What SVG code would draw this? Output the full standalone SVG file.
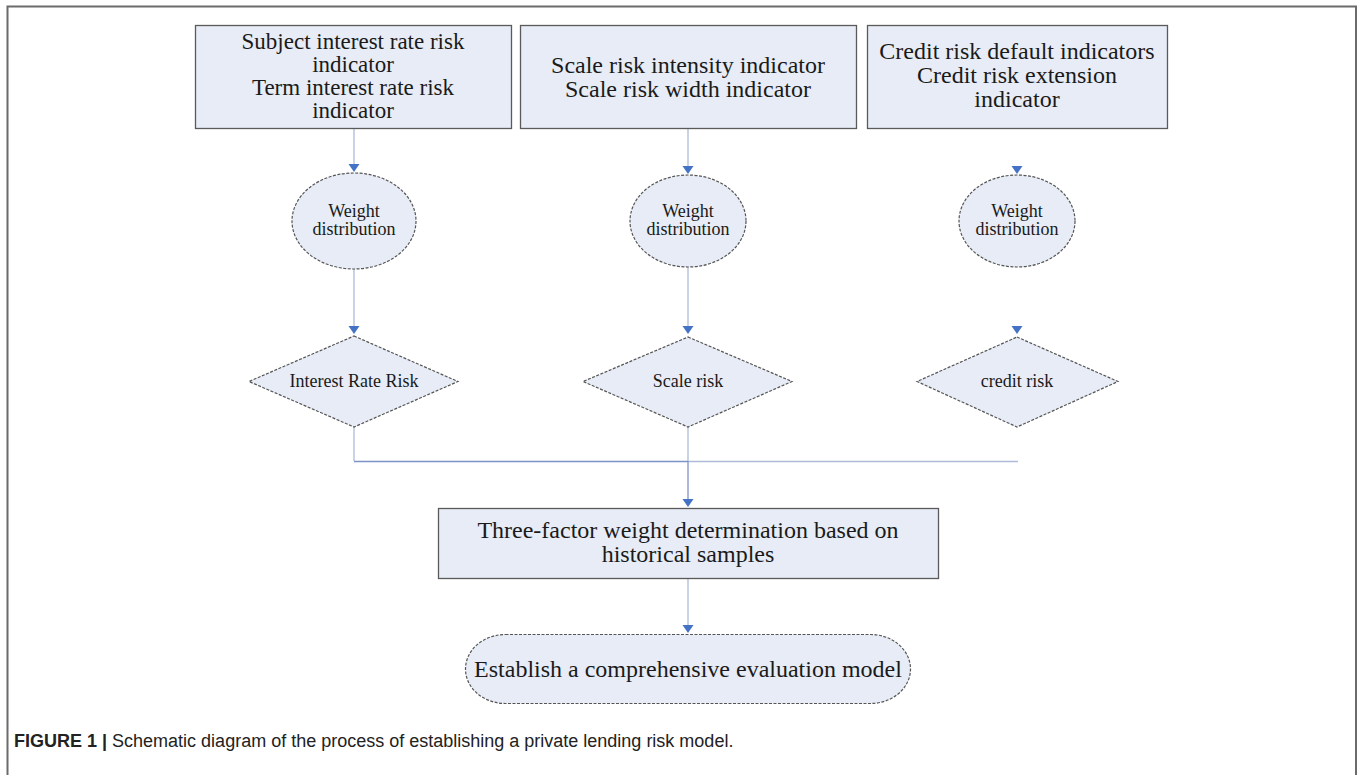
<svg xmlns="http://www.w3.org/2000/svg" width="1360" height="775" viewBox="0 0 1360 775">
<defs>
<style>
.box{fill:#e7ecf6;stroke:#5a5a5a;stroke-width:1.3}
.dash{fill:#e7ecf6;stroke:#555;stroke-width:1.2;stroke-dasharray:3 1.5}
.t{font-family:"Liberation Serif","Times New Roman",serif;fill:#1a1a1a;text-anchor:middle}
.big{font-size:24px}
.mid{font-size:23px}
.sm{font-size:18px}
.dm{font-size:18px}
.ln{stroke:#aebbd8;stroke-width:1.3;fill:none}
.ln2{stroke:#7d92c6;stroke-width:1.3;fill:none}
.ah{fill:#4472c4}
.cap{font-family:"Liberation Sans",Arial,sans-serif;font-size:18px;fill:#222}
</style>
</defs>
<rect width="1360" height="775" fill="#fff"/>
<path d="M7.5,780 V6.5 H1356 V780" fill="none" stroke="#6b6b6b" stroke-width="2"/>

<g id="connectors">
<line class="ln" x1="354" y1="129" x2="354" y2="165"/>
<polygon class="ah" points="348.5,164 359.5,164 354,172"/>
<line class="ln" x1="354" y1="269" x2="354" y2="327"/>
<polygon class="ah" points="348.5,326 359.5,326 354,334"/>
<line class="ln" x1="688" y1="129" x2="688" y2="167"/>
<polygon class="ah" points="682.5,166 693.5,166 688,174"/>
<line class="ln" x1="688" y1="267" x2="688" y2="327"/>
<polygon class="ah" points="682.5,326 693.5,326 688,334"/>
<polygon class="ah" points="1011.5,166 1022.5,166 1017,174"/>
<polygon class="ah" points="1011.5,326 1022.5,326 1017,334"/>
<line class="ln" x1="354" y1="427" x2="354" y2="461"/>
<line class="ln" x1="688" y1="427" x2="688" y2="461"/>
<line class="ln2" x1="354" y1="461.5" x2="688" y2="461.5"/>
<line class="ln" x1="688" y1="461.5" x2="1018" y2="461.5"/>
<line class="ln2" x1="688" y1="461" x2="688" y2="500"/>
<polygon class="ah" points="682.5,499 693.5,499 688,507"/>
<line class="ln" x1="688" y1="578" x2="688" y2="626"/>
<polygon class="ah" points="682.5,625 693.5,625 688,633"/>
</g>

<g id="box1">
<rect class="box" x="195.5" y="25.5" width="316" height="103"/>
<text class="t mid" x="353" y="49">Subject interest rate risk</text>
<text class="t mid" x="353" y="72">indicator</text>
<text class="t mid" x="353" y="95">Term interest rate risk</text>
<text class="t mid" x="353" y="118">indicator</text>
</g>
<g id="box2">
<rect class="box" x="520.5" y="25.5" width="336" height="103"/>
<text class="t big" x="688" y="73">Scale risk intensity indicator</text>
<text class="t big" x="688" y="97">Scale risk width indicator</text>
</g>
<g id="box3">
<rect class="box" x="867.5" y="25.5" width="300" height="103"/>
<text class="t big" x="1017" y="59">Credit risk default indicators</text>
<text class="t big" x="1017" y="83">Credit risk extension</text>
<text class="t big" x="1017" y="107">indicator</text>
</g>

<g id="ellipse1">
<ellipse class="dash" cx="354" cy="221" rx="62" ry="48"/>
<text class="t sm" x="354" y="217">Weight</text>
<text class="t sm" x="354" y="235">distribution</text>
</g>
<g id="ellipse2">
<ellipse class="dash" cx="688" cy="221" rx="58" ry="46"/>
<text class="t sm" x="688" y="217">Weight</text>
<text class="t sm" x="688" y="235">distribution</text>
</g>
<g id="ellipse3">
<ellipse class="dash" cx="1017" cy="221" rx="58" ry="46"/>
<text class="t sm" x="1017" y="217">Weight</text>
<text class="t sm" x="1017" y="235">distribution</text>
</g>

<g id="diamond1">
<polygon class="dash" points="354,336 458,381.5 354,427 249,381.5"/>
<text class="t dm" x="354" y="387">Interest Rate Risk</text>
</g>
<g id="diamond2">
<polygon class="dash" points="688,337 792,381.5 688,427 583,381.5"/>
<text class="t dm" x="688" y="387">Scale risk</text>
</g>
<g id="diamond3">
<polygon class="dash" points="1017,337 1118,381.5 1017,427 917,381.5"/>
<text class="t dm" x="1017" y="387">credit risk</text>
</g>

<g id="box4">
<rect class="box" x="438.5" y="508.5" width="500" height="70"/>
<text class="t big" x="688" y="538">Three-factor weight determination based on</text>
<text class="t big" x="688" y="562">historical samples</text>
</g>

<g id="terminal">
<rect class="dash" x="465.5" y="634.5" width="445" height="69" rx="40" ry="34.5"/>
<text class="t big" x="688" y="677">Establish a comprehensive evaluation model</text>
</g>

<text class="cap" x="14" y="747"><tspan font-weight="bold">FIGURE 1</tspan> <tspan font-weight="bold">|</tspan> Schematic diagram of the process of establishing a private lending risk model.</text>
</svg>
